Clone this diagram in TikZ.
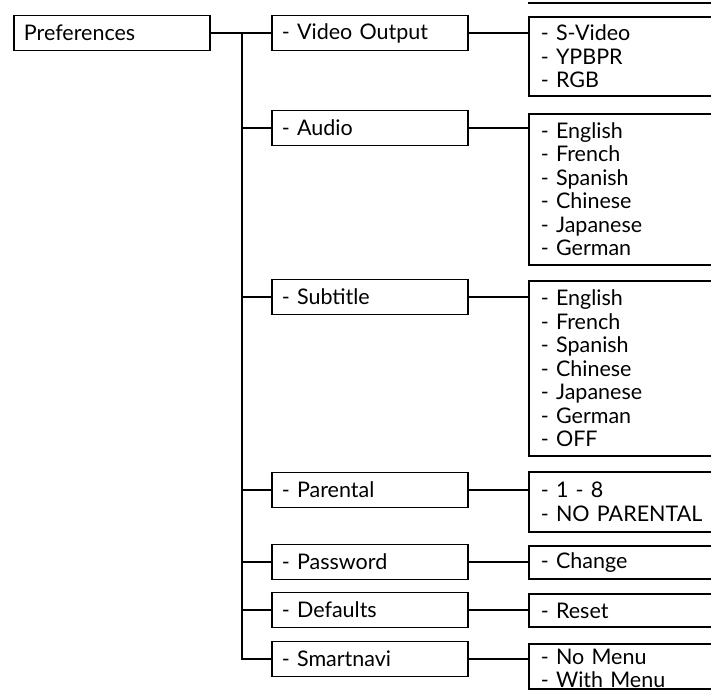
\documentclass[tikz,border=0pt]{standalone}
\usepackage{fontspec}
\setmainfont{Lato}
\usetikzlibrary{positioning}

\begin{document}
\begin{tikzpicture}[x=1pt,y=-1pt,line width=1.8pt,
font=\fontsize{21.5}{23.5}\selectfont,
menubox/.style = {draw, anchor=west, minimum width=196pt, minimum height=35pt, inner xsep=10pt, inner ysep=2pt, text width=176pt, align=left},
optbox/.style = {draw, anchor=north west, inner xsep=12pt, inner ysep=5pt, text width=236pt, align=left}]
\clip (0,0) rectangle (711,694);

% top level
\node[menubox] (pref) at (13,33) {Preferences};
\coordinate (trunk) at (242,33);

% second level
\node[menubox] (vo) at (271,33) {- Video Output};
\node[menubox] (au) at (271,128) {- Audio};
\node[menubox] (st) at (271,297) {- Subtitle};
\node[menubox] (pa) at (271,490) {- Parental};
\node[menubox] (pw) at (271,562) {- Password};
\node[menubox] (df) at (271,610) {- Defaults};
\node[menubox] (sn) at (271,659) {- Smartnavi};

% options
\node[optbox, minimum height=79pt] (voopt) at (528,16) {- S-Video\\- YPBPR\\- RGB};
\node[optbox, minimum height=151pt] (auopt) at (528,113) {- English\\- French\\- Spanish\\- Chinese\\- Japanese\\- German};
\node[optbox, minimum height=175pt] (stopt) at (528,280) {- English\\- French\\- Spanish\\- Chinese\\- Japanese\\- German\\- OFF};
\node[optbox, minimum height=60pt] (paopt) at (528,471) {- 1 - 8\\- NO PARENTAL};
\node[optbox, minimum height=33pt] (pwopt) at (528,545) {- Change};
\node[optbox, minimum height=33pt] (dfopt) at (528,593) {- Reset};
\node[optbox, text depth=20pt] (snopt) at (528,643) {- No Menu\\- With Menu};

\coordinate (topline) at (528,3);
\draw (topline) -- +(200,0);

% connectors
\draw (pref.east) -- (vo.west);
\draw (trunk) -- (sn.west -| trunk) -- (sn.west);
\foreach \n in {au,st,pa,pw,df}
  \draw (\n.west -| trunk) -- (\n.west);
\foreach \n in {vo,au,st,pa,pw,df,sn}
  \draw (\n.east) -- (\n.east -| \n opt.west);
\end{tikzpicture}
\end{document}
